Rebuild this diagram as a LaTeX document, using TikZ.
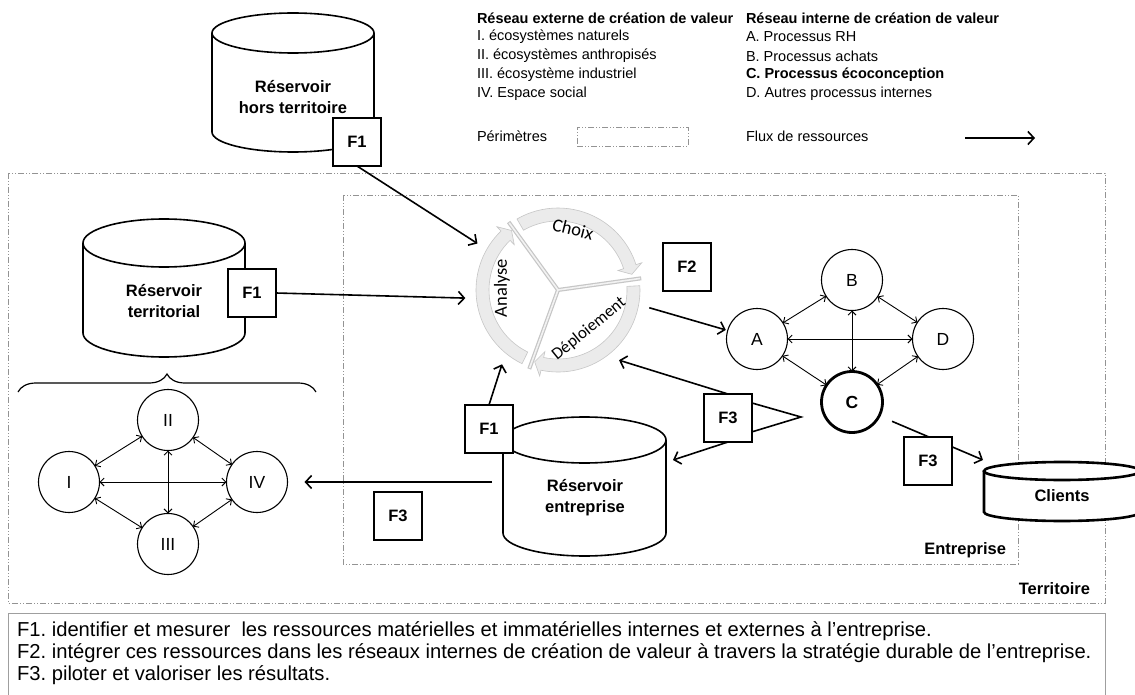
\documentclass[tikz,border=0pt]{standalone}
\usepackage{fontspec}
\setmainfont{Liberation Sans}
\newfontfamily\cyclefont{Carlito}
\usetikzlibrary{arrows.meta,decorations.pathreplacing}
\newcommand\drawtank[6]{%
  \draw[line width=#6, fill=white] (#1-#4,#2) -- (#1-#4,#3) arc[start angle=180,end angle=0,x radius=#4,y radius=#5] -- (#1+#4,#2);
  \draw[line width=#6, fill=white] (#1,#2) ellipse[x radius=#4, y radius=#5];}
\frenchspacing
\begin{document}
\begin{tikzpicture}[x=1pt,y=-1pt,
  every node/.style={inner sep=0pt, outer sep=0pt},
  lbl/.style={font=\fontsize{16.5}{21}\selectfont\bfseries, align=center},
  fbox/.style={draw, line width=1.7pt, fill=white, minimum size=48pt, font=\fontsize{16.5}{19}\selectfont\bfseries},
  netc/.style={circle, draw, line width=1.1pt, fill=white, minimum size=61pt, font=\fontsize{17.5}{20}\selectfont},
  flux/.style={line width=1.6pt, -{Straight Barb[length=6pt,width=13pt]}},
  biarr/.style={line width=0.9pt, {Straight Barb[length=4pt,width=8pt]}-{Straight Barb[length=4pt,width=8pt]}},
  perim/.style={draw=gray!85, line width=0.7pt, dash pattern=on 6pt off 2pt on 1pt off 2pt on 1pt off 2pt},
  leg/.style={anchor=west, font=\fontsize{14.5}{17}\selectfont},
  legb/.style={anchor=west, font=\fontsize{14.5}{17}\selectfont\bfseries},
  band/.style={fill=gray!16, draw=gray!45, line width=0.6pt},
  divo/.style={gray!45, line width=4pt},
  divi/.style={gray!10, line width=1.6pt},
  cyctext/.style={font=\cyclefont\fontsize{18.5}{20}\selectfont},
]
\useasboundingbox (0,0) rectangle (1135,695);
\fill[white] (0,0) rectangle (1135,695);

% perimeters
\draw[perim] (8,173) rectangle (1105,603);
\draw[perim] (343,195) rectangle (1018,564);
\node[lbl, anchor=east] (terr) at (1090,589) {Territoire};
\node[lbl, anchor=east] (entr) at (1006,550) {Entreprise};

% legend
\node[legb] (lt1) at (477,18) {Réseau externe de création de valeur};
\node[leg] (l1) at (477,37) {I. écosystèmes naturels};
\node[leg] (l2) at (477,56) {II. écosystèmes anthropisés};
\node[leg] (l3) at (477,75) {III. écosystème industriel};
\node[leg] (l4) at (477,94) {IV. Espace social};
\node[leg] (lp) at (477,136) {Périmètres};
\node[perim, minimum width=111pt, minimum height=19pt] (perimsample) at (632.5,136.5) {};
\node[legb] (lt2) at (746,18) {Réseau interne de création de valeur};
\node[leg] (la) at (746,37) {A. Processus RH};
\node[leg] (lb) at (746,56) {B. Processus achats};
\node[legb] (lc) at (746,75) {C. Processus écoconception};
\node[leg] (ld) at (746,94) {D. Autres processus internes};
\node[leg] (lf) at (746,136) {Flux de ressources};
\coordinate (fl1) at (965,138);
\coordinate (fl2) at (1035,138);
\draw[flux] (fl1) -- (fl2);

% tanks
\drawtank{293}{33}{132}{81}{20}{1.6pt}
\node[lbl] (rht) at (293,97) {Réservoir\\hors territoire};
\drawtank{164}{243}{333}{81}{24}{1.6pt}
\node[lbl] (rte) at (164,301) {Réservoir\\territorial};
\drawtank{584.5}{440}{533}{81.5}{23}{1.6pt}
\node[lbl] (ren) at (585,498) {Réservoir\\entreprise};
\drawtank{1062}{471}{512}{78}{9}{2.6pt}
\node[lbl] (cli) at (1062,496) {Clients};

% brace
\draw[line width=1.2pt, decorate, decoration={brace, amplitude=18pt}] (18,392) -- (316,392);

% cycle
\node[circle, minimum size=186pt] (cyc) at (558,290) {};
\begin{scope}[shift={(558,290)}]
  \fill[white] (0,0) circle[radius=70];
  \path[band] (-120:82) arc[start angle=-120, end angle=-18, radius=82] -- (-18:88) -- (-12:75.5) -- (-18:63) -- (-18:69) arc[start angle=-18, end angle=-120, radius=69] -- cycle;
  \path[band] (-3:82) arc[start angle=-3, end angle=102, radius=82] -- (102:88) -- (108:75.5) -- (102:63) -- (102:69) arc[start angle=102, end angle=-3, radius=69] -- cycle;
  \path[band] (-244:82) arc[start angle=-244, end angle=-134, radius=82] -- (-134:88) -- (-128:75.5) -- (-134:63) -- (-134:69) arc[start angle=-134, end angle=-244, radius=69] -- cycle;
  \foreach \a in {-126,-8,110} {
    \draw[divo] (0,0) -- (\a:84);
  }
  \foreach \a in {-126,-8,110} {
    \draw[divi] (0,0) -- (\a:83);
  }
\end{scope}
\node[cyctext, rotate=-14] (choix) at (573,229) {Choix};
\node[cyctext, rotate=90] (analyse) at (502,288) {Analyse};
\node[cyctext, rotate=39, font=\cyclefont\fontsize{17}{19}\selectfont] (deploi) at (589,329) {Déploiement};

% internal network
\node[netc] (A) at (757,339) {A};
\node[netc] (B) at (852,280) {B};
\node[netc] (D) at (943,339) {D};
\node[netc, line width=2.8pt] (C) at (852,402) {\bfseries C};
\draw[biarr] (A) -- (B);
\draw[biarr] (B) -- (D);
\draw[biarr] (A) -- (D);
\draw[biarr] (B) -- (C);
\draw[biarr] (A) -- (C);
\draw[biarr] (D) -- (C);

% external network
\node[netc] (I) at (69,482) {I};
\node[netc] (II) at (168,420) {II};
\node[netc] (IV) at (257,482) {IV};
\node[netc] (III) at (168,544) {III};
\draw[biarr] (I) -- (II);
\draw[biarr] (II) -- (IV);
\draw[biarr] (I) -- (IV);
\draw[biarr] (II) -- (III);
\draw[biarr] (I) -- (III);
\draw[biarr] (IV) -- (III);

% flux connectors
\coordinate (renin) at (673,460);
\coordinate (renout) at (492,482);
\coordinate (cliin) at (983,460);
\coordinate (f3tip) at (801,417);
\node[fbox] (f1a) at (357,142) {F1};
\node[fbox] (f1b) at (252,293) {F1};
\node[fbox] (f1d) at (489,429) {F1};
\node[fbox] (f2) at (687,267) {F2};
\node[fbox] (f3a) at (728,418) {F3};
\node[fbox] (f3b) at (398,516) {F3};
\draw[flux] (f1a.south) -- (cyc.150);
\draw[flux] (f1b.east) -- (cyc.185);
\draw[flux] (f1d.north) -- (cyc.233);
\draw[flux] (f3a.north) -- (cyc.311);
\draw[flux] (f3a.south) -- (renin);
\draw[flux, shorten >=2pt] (cyc.-11) -- (A);
\draw[line width=1.6pt, line join=miter] (f3a.32) -- (f3tip) -- (f3a.-30);
\draw[flux, shorten >=17pt] (renout) -- (IV);
\draw[flux, shorten <=14pt] (C.-27) -- (cliin);
\node[fbox] (f3c) at (928,461) {F3};

% bottom text
\node[draw=gray!75, line width=1pt, minimum width=1097pt, minimum height=84pt, anchor=north west] (txtbox) at (8,613) {};
\node[anchor=west, font=\fontsize{20.2}{23}\selectfont] (t1) at (17,631) {F1. identifier et mesurer\ \ les ressources matérielles et immatérielles internes et externes à l’entreprise.};
\node[anchor=west, font=\fontsize{20.2}{23}\selectfont] (t2) at (17,653) {F2. intégrer ces ressources dans les réseaux internes de création de valeur à travers la stratégie durable de l’entreprise.};
\node[anchor=west, font=\fontsize{20.2}{23}\selectfont] (t3) at (17,675) {F3. piloter et valoriser les résultats.};
\end{tikzpicture}
\end{document}
